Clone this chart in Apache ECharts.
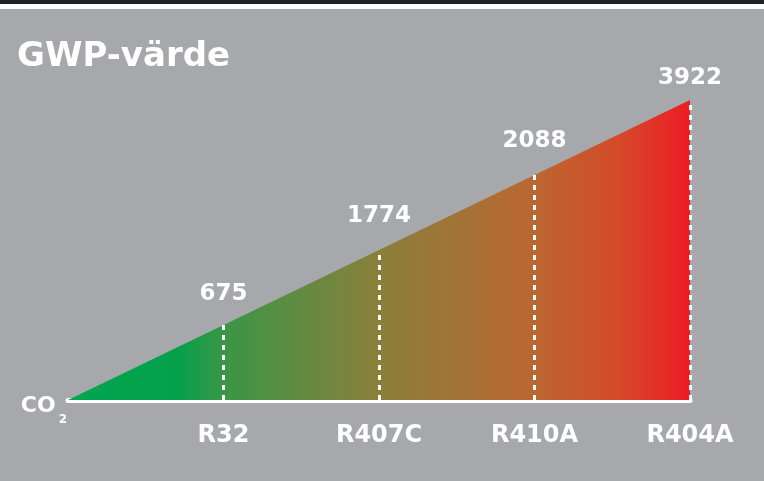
<!DOCTYPE html>
<html>
<head>
<meta charset="utf-8">
<script src="https://cdn.jsdelivr.net/npm/echarts@6/dist/echarts.min.js"></script>
<style>
  html, body { margin: 0; padding: 0; background: #a7a8ac; }
  #wrap { position: relative; width: 764px; height: 481px; overflow: hidden; }
  #chart { position: absolute; left: 0; top: 0; width: 764px; height: 481px; }
  #stripDark { position: absolute; left: 0; top: 0; width: 764px; height: 4px; background: #1e2126; z-index: 2; }
  #stripLight { position: absolute; left: 0; top: 4px; width: 764px; height: 5px; background: #ffffff; z-index: 2; }
</style>
</head>
<body>
<div id="wrap">
  <div id="chart"></div>
  <div id="stripDark"></div>
  <div id="stripLight"></div>
</div>
<script>
// ---- data ----
const categories = ['CO2', 'R32', 'R407C', 'R410A', 'R404A'];
const gwpValues = [1, 675, 1774, 2088, 3922];
// drawn height of the triangle: refrigerants are stacked by rank (equal steps)
const rankLevels = [0, 1, 2, 3, 4];
const titleText = 'GWP-värde';

// ---- style ----
const FONT = 'DejaVu Sans';
const labelGap = [0, 19, 22, 22, 10];

const chart = echarts.init(document.getElementById('chart'), null, { renderer: 'canvas' });

const seriesData = rankLevels.map((v, i) => ({
  value: v,
  label: { distance: labelGap[i] }
}));

const dashData = categories.slice(1).map((c, k) => [
  { coord: [c, 0] },
  { coord: [c, rankLevels[k + 1]] }
]);

chart.setOption({
  backgroundColor: '#a7a8ac',
  animation: false,
  title: {
    text: titleText,
    left: 12,
    top: 35,
    textStyle: { color: '#ffffff', fontFamily: FONT, fontWeight: 'bold', fontSize: 34 }
  },
  grid: { left: 68, right: 74, top: 100, bottom: 81, containLabel: false },
  xAxis: {
    type: 'category',
    data: categories,
    boundaryGap: false,
    offset: 3,
    axisLine: { show: true, lineStyle: { color: '#ffffff', width: 5 } },
    axisTick: { show: false },
    splitLine: { show: false },
    axisLabel: {
      margin: 21,
      color: '#ffffff',
      fontFamily: FONT,
      fontWeight: 'bold',
      fontSize: 24,
      formatter: (v, i) => (i === 0 ? '' : v)
    }
  },
  yAxis: {
    type: 'value',
    min: 0,
    max: 4,
    interval: 1,
    axisLine: { show: false },
    axisTick: { show: false },
    splitLine: { show: false },
    axisLabel: {
      margin: 1,
      padding: [13, 0, 0, 0],
      formatter: (v) => (v === 0 ? '{co|CO}{sub|2}' : ''),
      rich: {
        co: { color: '#ffffff', fontFamily: FONT, fontWeight: 'bold', fontSize: 22, lineHeight: 22 },
        sub: { color: '#ffffff', fontFamily: FONT, fontWeight: 'bold', fontSize: 12, lineHeight: 22, padding: [27, 0, 0, 3] }
      }
    }
  },
  series: [{
    type: 'line',
    data: seriesData,
    symbol: 'circle',
    symbolSize: 1,
    itemStyle: { color: 'rgba(0,0,0,0)' },
    lineStyle: { width: 0, opacity: 0 },
    areaStyle: {
      opacity: 1,
      color: new echarts.graphic.LinearGradient(0, 0, 1, 0, [
        { offset: 0, color: '#00a651' },
        { offset: 0.18, color: '#06a04b' },
        { offset: 0.25, color: '#3a9646' },
        { offset: 0.5, color: '#8a7f3b' },
        { offset: 0.75, color: '#bb6731' },
        { offset: 0.88, color: '#d44b2a' },
        { offset: 1, color: '#ed1c24' }
      ])
    },
    label: {
      show: true,
      position: 'top',
      color: '#ffffff',
      fontFamily: FONT,
      fontWeight: 'bold',
      fontSize: 23,
      formatter: (p) => (p.dataIndex === 0 ? '' : String(gwpValues[p.dataIndex]))
    },
    markLine: {
      silent: true,
      symbol: ['none', 'none'],
      label: { show: false },
      lineStyle: { color: '#ffffff', width: 3, type: [5, 5], opacity: 1 },
      emphasis: { disabled: true },
      data: dashData
    }
  }]
});
</script>
</body>
</html>
